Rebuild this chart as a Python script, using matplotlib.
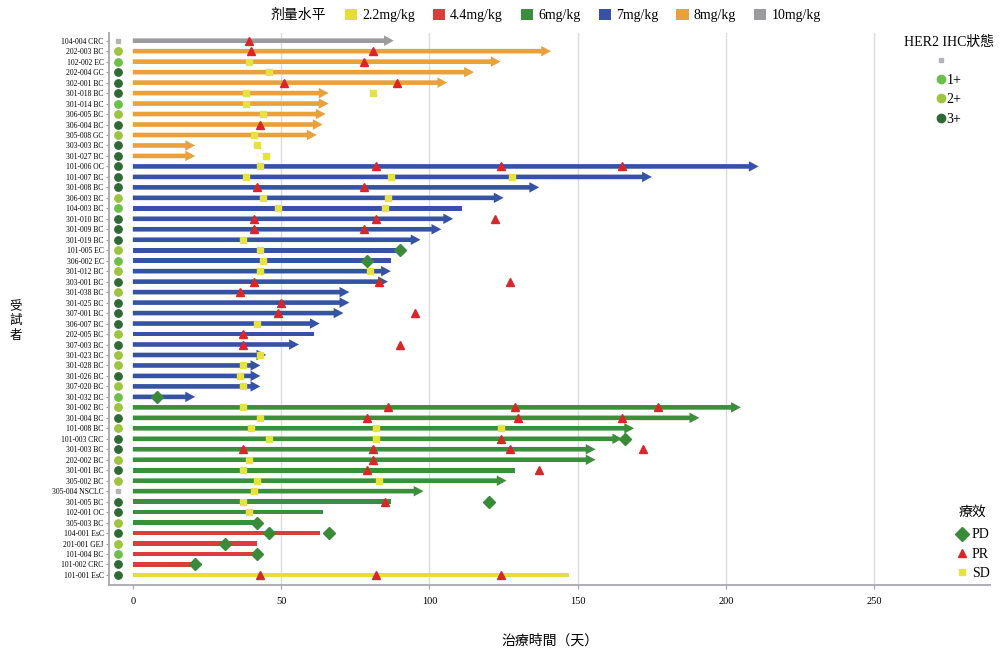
import matplotlib
matplotlib.use("Agg")
import matplotlib.pyplot as plt
from matplotlib.patches import Patch
from matplotlib.lines import Line2D
from matplotlib.font_manager import FontProperties

plt.rcParams['font.family'] = ['Liberation Serif', 'Noto Sans CJK TC', 'DejaVu Sans']

# 受試者, top to bottom
subjects = ["104-004 CRC", "202-003 BC", "102-002 EC", "202-004 GC", "302-001 BC",
            "301-018 BC", "301-014 BC", "306-005 BC", "306-004 BC", "305-008 GC",
            "303-003 BC", "301-027 BC", "101-006 OC", "101-007 BC", "301-008 BC",
            "306-003 BC", "104-003 BC", "301-010 BC", "301-009 BC", "301-019 BC",
            "101-005 EC", "306-002 EC", "301-012 BC", "303-001 BC", "301-038 BC",
            "301-025 BC", "307-001 BC", "306-007 BC", "202-005 BC", "307-003 BC",
            "301-023 BC", "301-028 BC", "301-026 BC", "307-020 BC", "301-032 BC",
            "301-002 BC", "301-004 BC", "101-008 BC", "101-003 CRC", "301-003 BC",
            "202-002 BC", "301-001 BC", "305-002 BC", "305-004 NSCLC", "301-005 BC",
            "102-001 OC", "305-003 BC", "104-001 EsC", "201-001 GEJ", "101-004 BC",
            "101-002 CRC", "101-001 EsC"]

dose = ["10"] + ["8"] * 11 + ["7"] * 23 + ["6"] * 12 + ["4.4"] * 4 + ["2.2"]

her2 = ["na", "2+", "1+", "3+", "3+", "3+", "1+", "2+", "3+", "2+", "3+", "3+",
        "3+", "3+", "3+", "2+", "1+", "3+", "3+", "3+", "2+", "1+", "2+", "3+", "2+",
        "3+", "3+", "3+", "2+", "3+", "2+", "2+", "3+", "2+", "1+",
        "2+", "3+", "2+", "3+", "3+", "2+", "3+", "2+", "na", "3+", "3+", "2+",
        "3+", "2+", "1+", "3+", "3+"]

duration = [88, 141, 124, 115, 106, 66, 66, 65, 64, 62, 21, 21,
            211, 175, 137, 125, 111, 108, 104, 97, 89, 87, 87, 86, 73,
            73, 71, 63, 61, 56, 45, 43, 43, 43, 21,
            205, 191, 169, 165, 156, 156, 129, 126, 98, 87, 64, 42,
            63, 42, 42, 21, 147]

ongoing = [1, 1, 1, 1, 1, 1, 1, 1, 1, 1, 1, 1,
           1, 1, 1, 1, 0, 1, 1, 1, 0, 0, 1, 1, 1,
           1, 1, 1, 0, 1, 1, 1, 1, 1, 1,
           1, 1, 1, 1, 1, 1, 0, 1, 1, 0, 0, 0,
           0, 0, 0, 0, 0]

pr_days = [[39], [40, 81], [78], [], [51, 89], [], [], [], [43], [], [], [],
           [82, 124, 165], [], [42, 78], [], [], [41, 82, 122], [41, 78], [], [], [], [], [41, 83, 127], [36],
           [50], [49, 95], [], [37], [37, 90], [], [], [], [], [],
           [86, 129, 177], [79, 130, 165], [], [124], [37, 81, 127, 172], [81], [79, 137], [], [], [85], [], [],
           [], [], [], [], [43, 82, 124]]

sd_days = [[], [], [39], [46], [], [38, 81], [38], [44], [], [41], [42], [45],
           [43], [38, 87, 128], [], [44, 86], [49, 85], [], [], [37], [43], [44], [43, 80], [], [],
           [], [], [42], [], [], [43], [37], [36], [37], [],
           [37], [43], [40, 82, 124], [46, 82], [], [39], [37], [42, 83], [41], [37], [39], [],
           [], [], [], [], []]

pd_days = [[], [], [], [], [], [], [], [], [], [], [], [],
           [], [], [], [], [], [], [], [], [90], [79], [], [], [],
           [], [], [], [], [], [], [], [], [], [8],
           [], [], [], [166], [], [], [], [], [], [120], [], [42],
           [46, 66], [31], [42], [21], []]

dose_levels = ["2.2", "4.4", "6", "7", "8", "10"]
dose_labels = ["2.2mg/kg", "4.4mg/kg", "6mg/kg", "7mg/kg", "8mg/kg", "10mg/kg"]
dose_colors = {"2.2": "#e4dd3c", "4.4": "#dc3b40", "6": "#3b8e3b",
               "7": "#3552a5", "8": "#e8a13c", "10": "#9b9b9d"}
her2_colors = {"na": "#b4b4b8", "1+": "#6cc04a", "2+": "#9cc43e", "3+": "#2f6a35"}

fig = plt.figure(figsize=(10.01, 6.55), dpi=100)
ax = fig.add_axes([0.109, 0.107, 0.880, 0.843])

for x in [50, 100, 150, 200, 250]:
    ax.axvline(x, color="#dcdce0", lw=1.0, zorder=0)

for i in range(len(subjects)):
    c = dose_colors[dose[i]]
    if ongoing[i]:
        ax.arrow(0, i, duration[i], 0, width=0.44, head_width=1.0, head_length=3.3,
                 length_includes_head=True, fc=c, ec=c, lw=0, zorder=2)
    else:
        ax.barh(i, duration[i], height=0.44, left=0, color=c, zorder=2)
    # HER2 status
    h = her2[i]
    if h == "na":
        ax.plot(-5, i, marker="s", ms=3.2, color=her2_colors[h], ls="none", zorder=3)
    else:
        ax.plot(-5, i, marker="o", ms=5.3, color=her2_colors[h], ls="none", zorder=3)
    for d in sd_days[i]:
        ax.plot(d, i, marker="s", ms=5, color="#e6e23f", ls="none", zorder=4)
    for d in pr_days[i]:
        ax.plot(d, i, marker="^", ms=5.5, color="#d9262b", ls="none", zorder=5)
    for d in pd_days[i]:
        ax.plot(d, i, marker="D", ms=6.5, color="#3a8a3a", ls="none", zorder=5)

ax.set_xlim(-8, 289)
ax.set_ylim(len(subjects) - 0.05, -0.76)
ax.set_yticks(range(len(subjects)))
ax.set_yticklabels(subjects, fontsize=5.5)
ax.set_xticks([0, 50, 100, 150, 200, 250])
ax.tick_params(axis="x", labelsize=7.5, length=3, color="#a0a0a4", pad=6)
ax.tick_params(axis="y", length=2.5, color="#a0a0a4", pad=1.5)
for s in ["top", "right"]:
    ax.spines[s].set_visible(False)
for s in ["left", "bottom"]:
    ax.spines[s].set_color("#a8a8ac")
    ax.spines[s].set_linewidth(1.3)

ax.set_xlabel("治療時間（天）", fontsize=10, labelpad=20)
fig.text(0.016, 0.51, "受\n試\n者", fontsize=9, ha="center", va="center",
         linespacing=1.15, family="Noto Sans CJK TC")

# top legend: dose level
fig.text(0.27, 0.976, "剂量水平", fontsize=10, va="center")
dose_handles = [Patch(facecolor=dose_colors[k], edgecolor="none") for k in dose_levels]
fig.legend(dose_handles, dose_labels, ncol=6, loc="center", bbox_to_anchor=(0.582, 0.976),
           frameon=False, fontsize=10, handlelength=0.9, handleheight=0.9,
           handletextpad=0.35, columnspacing=1.3)

# HER2 legend
title_fp = FontProperties(family=['Liberation Serif', 'Noto Sans CJK TC'], size=10)
her2_handles = [Line2D([], [], marker="s", ms=3.2, color=her2_colors["na"], ls="none")]
her2_handles += [Line2D([], [], marker="o", ms=6, color=her2_colors[k], ls="none")
                 for k in ["1+", "2+", "3+"]]
fig.legend(her2_handles, ["", "1+", "2+", "3+"], loc="upper center",
           bbox_to_anchor=(0.948, 0.965), frameon=False, fontsize=10,
           title="HER2 IHC狀態", title_fontproperties=title_fp,
           handlelength=0.6, handletextpad=0.1, labelspacing=0.45)

# response legend
resp_handles = [Line2D([], [], marker="D", ms=7, color="#3a8a3a", ls="none"),
                Line2D([], [], marker="^", ms=6, color="#d9262b", ls="none"),
                Line2D([], [], marker="s", ms=5, color="#e6e23f", ls="none")]
leg = fig.legend(resp_handles, ["PD", "PR", "SD"], loc="upper center",
                 bbox_to_anchor=(0.972, 0.247), frameon=False, fontsize=10,
                 title="療效", title_fontproperties=title_fp,
                 handlelength=0.8, handletextpad=0.3, labelspacing=0.45)
leg._legend_box.sep = 7

fig.savefig("out.png", dpi=100)
